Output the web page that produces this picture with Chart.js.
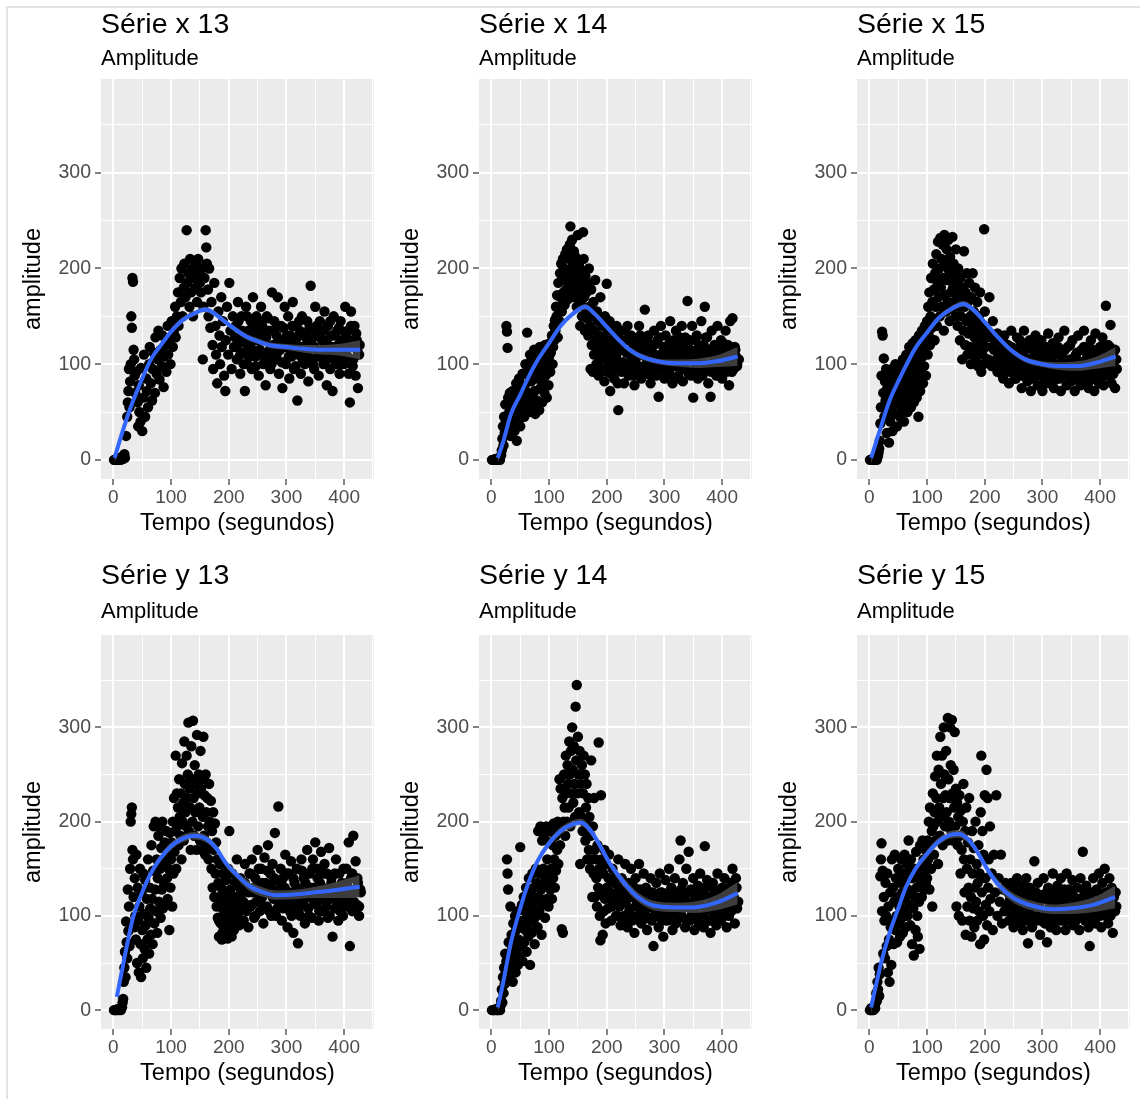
<!DOCTYPE html>
<html>
<head>
<meta charset="utf-8">
<script src="https://cdn.jsdelivr.net/npm/chart.js@4.4.1/dist/chart.umd.min.js"></script>
<style>
  body { margin: 0; background: #fff; width: 1140px; height: 1099px; position: relative; overflow: hidden; }
  .frame { position: absolute; left: 6px; top: 6px; width: 1140px; height: 1100px; border-left: 2px solid #e2e2e2; border-top: 2px solid #e2e2e2; }
  canvas { position: absolute; }
  #c1 { left: 1px; top: 0; }
  #c2 { left: 379px; top: 0; }
  #c3 { left: 757px; top: 0; }
  #c4 { left: 1px; top: 556px; }
  #c5 { left: 379px; top: 556px; }
  #c6 { left: 757px; top: 556px; }
</style>
</head>
<body>
<div class="frame"></div>
<canvas id="c1" width="378" height="539"></canvas>
<canvas id="c2" width="378" height="539"></canvas>
<canvas id="c3" width="378" height="539"></canvas>
<canvas id="c4" width="378" height="533"></canvas>
<canvas id="c5" width="378" height="533"></canvas>
<canvas id="c6" width="378" height="533"></canvas>
<script>
// axis breaks
const xMajor = [0, 100, 200, 300, 400];
const xMinor = [50, 150, 250, 350, 450];
const yMajor = [0, 100, 200, 300];
const yMinor = [50, 150, 250, 350];

// [tempo, amplitude]
const serieX13 = [
  [1,0],[3,0],[5,1],[7,0],[9,0],[11,2],[13,0],[15,3],[17,1],[19,6],[20,2],
  [22,25],[24,45],[25,60],[26,72],[27,95],[28,55],[29,82],[30,100],[31,150],[32,138],[33,190],[34,186],[35,115],[36,105],[37,88],[38,70],[40,92],[42,60],[43,35],[44,78],[45,50],
  [47,40],[48,96],[50,30],[52,65],[53,110],[55,45],[57,85],[58,72],[60,55],[62,100],[63,118],[65,80],[67,62],[68,95],[70,112],[72,70],[73,128],[75,90],[77,105],[78,135],[80,84],[82,115],[84,98],[85,130],[87,76],[88,108],[90,120],[92,92],[94,140],[95,110],[97,125],[99,100],
  [101,145],[103,118],[105,132],[107,160],[108,128],[110,150],[112,175],[113,140],[115,190],[117,165],[118,200],[120,150],[122,180],[123,205],[125,170],[127,240],[128,185],[130,195],[132,160],[133,210],[135,175],[137,200],[138,150],[140,190],[142,180],[143,205],[145,165],[147,210],[148,195],[150,185],[152,175],[153,200],[155,105],[156,160],[158,190],[160,240],[161,222],[162,205],[164,178],[165,150],[166,200],[168,138],[170,165],
  [172,120],[173,95],[175,185],[177,140],[178,110],[180,80],[182,155],[184,130],[185,100],[187,170],[188,118],[190,145],[192,88],[194,72],[195,125],[197,160],[199,110],[201,185],[203,135],[205,95],[207,150],[209,118],
  [212,140],[214,105],[216,165],[218,125],[220,90],[222,150],[224,112],[226,130],[228,72],[230,160],[232,100],[234,135],[236,118],[238,145],[240,95],[242,170],[244,125],[246,108],[248,150],[250,132],[252,88],[254,115],[256,160],[258,140],[260,100],[262,125],[264,78],[266,150],[268,110],[270,135],[272,95],[275,175],[277,120],[279,145],[281,105],[283,130],[285,170],[287,90],[289,115],[291,140],[293,75],[295,125],[297,160],[299,100],
  [301,118],[303,150],[305,85],[307,130],[309,108],[311,165],[313,95],[315,140],[317,120],[319,62],[321,110],[323,135],[325,90],[327,150],[330,115],[332,100],[334,128],[336,145],[338,82],[340,120],[342,182],[344,105],[346,135],[348,95],[350,160],[352,115],[354,130],[356,88],[358,145],[360,108],[362,125],[364,100],[366,155],[368,118],[370,78],[372,140],[374,110],[376,95],[378,130],[380,72],[382,150],[384,115],[386,100],[388,135],[390,120],[392,90],[394,145],[396,108],[398,125],[400,100],[402,160],[404,115],[406,135],[408,90],[410,60],[412,155],[414,120],[416,105],[418,140],[420,88],[422,125],[424,75],[426,110]
];
const serieX13b = [
  [211,128],[214,118],[217,145],[220,110],[223,135],[226,100],[229,122],[232,150],[235,108],[238,130],[241,115],[244,140],[247,98],[250,125],[253,145],[256,112],[259,132],[262,105],[265,128],[268,148],[271,115],[274,100],[277,135],[280,120],[283,110],[286,140],[289,125],[292,102],[295,138],[298,118],
  [301,130],[304,108],[307,122],[310,140],[313,112],[316,98],[319,128],[322,145],[325,118],[328,105],[331,132],[334,120],[337,110],[340,138],[343,125],[346,100],[349,118],[352,140],[355,108],[358,128],[361,115],[364,135],[367,102],[370,125],[373,112],[376,145],[379,118],[382,105],[385,130],[388,112],[391,138],[394,100],[397,122],[400,115],[403,132],[406,108],[409,125],[412,140],[415,98],[418,118],[421,132],[424,112],[427,120]
];

const serieX14 = [
  [1,0],[3,0],[5,0],[7,1],[9,0],[11,0],[13,2],[15,0],[17,5],
  [18,10],[19,22],[20,35],[21,15],[22,45],[23,28],[24,58],[25,40],[26,140],[27,134],[28,117],[29,65],[30,32],[31,50],[32,70],[33,25],[34,48],[35,60],[36,38],[37,72],[38,55],[40,30],[41,62],[42,45],[43,80],[44,20],[45,55],[46,68],[47,40],[48,85],[49,58],[50,35],[52,72],[53,50],[54,90],[55,62],[57,45],[58,78],[59,100],[60,55],
  [62,133],[63,70],[64,88],[65,50],[66,95],[67,110],[68,65],[69,82],[70,105],[72,58],[73,90],[74,115],[75,72],[76,48],[77,98],[78,112],[79,62],[80,85],[82,100],[83,52],[84,118],[85,75],[86,92],[87,108],[88,60],[89,80],[90,112],[91,96],[92,70],[93,120],[94,88],[95,104],[96,65],[97,115],[98,95],[99,78],[100,108],[101,122],[102,92],[103,112],[105,130],[106,100],[107,118],[108,140],[109,125],[110,146],
  [111,135],[112,160],[113,150],[114,172],[115,128],[116,185],[117,160],[118,145],[119,195],[120,170],[121,205],[122,155],[123,188],[124,210],[125,175],[126,200],[127,162],[128,215],[129,190],[130,178],[131,220],[132,198],[133,168],[134,210],[135,185],[136,225],[137,244],[138,200],[139,175],[140,230],[141,208],[142,190],[143,218],[144,170],[145,195],[146,212],[147,182],[148,160],[149,200],[150,235],[151,176],[152,205],[153,188],[154,140],[155,165],[156,198],[157,150],[158,180],[159,238],[160,210],[161,170],[162,135],[163,192],[164,158],[165,175],[166,148],[167,185],[168,130],[169,200],[170,160],
  [171,140],[172,95],[173,178],[174,120],[175,150],[176,92],[177,165],[178,110],[179,135],[180,188],[181,125],[182,100],[183,155],[184,115],[185,145],[186,88],[187,130],[188,105],[189,170],[190,120],[192,95],[193,140],[194,110],[195,128],[196,82],[197,150],[198,105],[199,118],[200,184],[201,92],[202,135],[203,112],[204,100],[205,145],[206,72],[207,125],[208,90],[209,110],[210,138],[211,98],[212,118],[213,85],[214,128],[215,105],[216,95],[217,140],[218,112],[219,80],[220,52],[221,120],[222,100],
  [224,135],[226,92],[228,115],[230,80],[232,125],[234,100],[236,140],[238,88],[240,112],[242,130],[244,95],[246,118],[248,78],[250,105],[252,125],[254,92],[256,140],[258,110],[260,85],[262,120],[264,98],[266,157],[268,115],[270,90],[272,130],[274,105],[276,80],[278,120],[280,98],[282,135],[284,110],[286,88],[288,125],[290,66],[292,108],[294,140],[296,95],[298,118],[300,85],
  [302,130],[304,102],[306,115],[308,92],[310,145],[312,108],[314,80],[316,125],[318,98],[320,135],[322,112],[324,88],[326,120],[328,100],[330,140],[332,82],[334,115],[336,128],[338,95],[340,166],[342,108],[344,125],[346,88],[348,140],[350,65],[352,112],[354,98],[356,130],[358,85],[360,118],[362,105],[364,145],[366,92],[368,120],[370,160],[372,100],[374,128],[376,80],[378,112],[380,66],[382,135],[384,95],[386,118],[388,105],[390,88],[392,140],[394,110],[396,98],[398,125],[400,85],[402,115],[404,102],[406,135],[408,92],[410,120],[412,78],[414,145],[416,105],[418,148],[420,95],[422,118],[424,108],[426,100]
];
const serieX14b = [
  [213,125],[216,108],[219,130],[222,95],[225,118],[228,102],[231,135],[234,112],[237,95],[240,125],[243,105],[246,88],[249,120],[252,110],[255,98],[258,130],[261,115],[264,92],[267,108],[270,125],[273,100],[276,115],[279,88],[282,120],[285,105],[288,95],[291,128],[294,110],[297,98],[300,118],
  [303,108],[306,90],[309,122],[312,100],[315,112],[318,85],[321,118],[324,105],[327,128],[330,95],[333,110],[336,100],[339,122],[342,90],[345,115],[348,105],[351,92],[354,125],[357,108],[360,98],[363,118],[366,88],[369,110],[372,128],[375,100],[378,115],[381,92],[384,108],[387,120],[390,98],[393,112],[396,88],[399,105],[402,122],[405,95],[408,110],[411,100],[414,118],[417,92],[420,108],[423,115],[426,98],[429,105]
];

const serieX15 = [
  [1,0],[3,0],[5,1],[7,0],[9,0],[11,2],[13,0],[15,4],[16,8],[17,12],
  [18,20],[19,38],[20,55],[21,88],[22,134],[23,130],[24,70],[25,106],[26,45],[27,82],[28,62],[29,95],[30,28],[31,75],[32,50],[33,90],[34,18],[35,65],
  [36,40],[37,80],[38,55],[39,95],[40,30],[42,70],[43,88],[44,48],[45,100],[46,62],[47,78],[48,35],[49,92],[50,58],[52,72],[53,45],[54,98],[55,65],[56,82],[57,52],[58,105],[59,70],[60,40],[62,88],[63,60],[64,110],[65,75],[66,50],[67,95],[68,68],[69,118],[70,82],[72,55],[73,100],[74,72],[75,122],[76,90],[77,60],[78,108],[79,80],[80,125],[81,95],[82,65],[83,112],[84,85],[85,45],[86,130],[87,100],[88,72],[89,118],[90,92],[91,135],[92,108],[93,80],[94,120],[95,98],[96,140],[97,115],[98,88],[99,128],
  [100,145],[101,110],[102,160],[103,130],[104,175],[105,120],[106,150],[107,190],[108,138],[109,165],[110,205],[111,145],[112,178],[113,125],[114,195],[115,160],[116,215],[117,140],[118,185],[119,228],[120,170],[121,200],[122,150],[123,232],[124,180],[125,210],[126,160],[127,225],[128,190],[129,135],[130,235],[131,172],[132,205],[133,155],[134,220],[135,188],[136,165],[137,230],[138,198],[139,145],[140,212],[141,175],[142,190],[143,158],[144,233],[145,180],[146,205],[147,165],[148,195],[149,150],[150,220],[151,172],[152,185],[153,140],[154,200],[155,160],[156,178],[157,125],[158,190],[159,150],[160,170],[161,105],[162,180],[163,135],[164,218],[165,160],[166,120],[167,175],[168,145],[169,195],[170,110],
  [171,165],[172,132],[173,185],[174,118],[175,150],[176,100],[177,170],[178,138],[179,195],[180,112],[181,155],[182,128],[183,180],[184,105],[185,145],[186,120],[187,165],[188,98],[189,135],[190,150],[191,115],[192,175],[193,130],[194,92],[195,140],[196,110],[197,125],[198,100],[199,241],[200,155],[202,118],[204,135],[206,105],[208,170],[210,128],[212,98],[214,145],[216,115],[218,125],[220,105],
  [222,132],[224,110],[226,92],[228,125],[230,100],[232,85],[234,130],[236,112],[238,95],[240,120],[242,80],[244,108],[246,135],[248,92],[250,115],[252,100],[254,85],[256,128],[258,105],[260,90],[262,120],[264,75],[266,110],[268,135],[270,95],[272,118],[274,82],[276,105],[278,125],[280,72],[282,98],[284,115],[286,88],[288,130],[290,100],[292,78],[294,112],[296,92],[298,125],[300,72],
  [302,105],[304,88],[306,118],[308,95],[310,132],[312,80],[314,108],[316,92],[318,122],[320,75],[322,100],[324,115],[326,85],[328,128],[330,95],[332,72],[334,110],[336,88],[338,135],[340,98],[342,78],[344,118],[346,92],[348,105],[350,82],[352,125],[354,95],[356,72],[358,110],[360,88],[362,130],[364,100],[366,78],[368,115],[370,92],[372,135],[374,82],[376,105],[378,118],[380,75],[382,98],[384,125],[386,88],[388,110],[390,72],[392,132],[394,95],[396,105],[398,80],[400,118],[402,92],[404,128],[406,78],[408,110],[410,161],[412,88],[414,120],[416,100],[418,141],[420,80],[422,112],[424,95],[426,75],[428,105]
];
const serieX15b = [
  [213,118],[216,100],[219,130],[222,92],[225,115],[228,105],[231,88],[234,122],[237,100],[240,110],[243,92],[246,118],[249,105],[252,85],[255,112],[258,98],[261,125],[264,88],[267,105],[270,115],[273,92],[276,100],[279,118],[282,85],[285,108],[288,95],[291,120],[294,88],[297,102],[300,112],
  [303,80],[306,98],[309,115],[312,90],[315,105],[318,82],[321,110],[324,95],[327,118],[330,85],[333,102],[336,92],[339,115],[342,88],[345,100],[348,120],[351,90],[354,105],[357,85],[360,112],[363,95],[366,102],[369,88],[372,118],[375,95],[378,108],[381,82],[384,100],[387,115],[390,90],[393,105],[396,85],[399,110],[402,98],[405,120],[408,88],[411,102],[414,95],[417,118],[420,100],[423,90],[426,115],[429,95]
];

const serieY13 = [
  [1,0],[3,0],[5,0],[7,1],[9,0],[11,2],[13,0],[15,3],[16,8],[17,12],
  [18,30],[19,45],[20,62],[21,35],[22,94],[23,72],[24,55],[25,128],[26,84],[27,110],[28,68],[29,150],[30,200],[31,208],[32,215],[33,170],[34,160],[35,120],[36,88],[37,140],[38,100],[39,75],[40,165],
  [41,50],[42,130],[43,95],[44,40],[45,110],[46,150],[47,70],[48,35],[49,125],[50,85],[51,55],[52,145],[53,102],[54,65],[55,138],[56,90],[57,45],[58,118],[59,75],[60,160],[61,98],[62,60],[63,130],[64,108],[65,80],[66,175],[67,118],[68,70],[69,148],[70,195],[71,92],[72,128],[73,200],[74,105],[75,160],[76,82],[77,140],[78,185],[79,115],[80,195],[81,150],[82,98],[83,172],[84,128],[85,200],[86,108],[87,155],[88,135],[89,178],[90,112],[91,162],[92,190],[93,140],[94,118],[95,170],[96,150],[97,85],[98,188],[99,130],
  [100,160],[101,178],[102,110],[103,200],[104,145],[105,225],[106,168],[107,190],[108,270],[109,150],[110,230],[111,195],[112,215],[113,175],[114,245],[115,205],[116,185],[117,230],[118,160],[119,262],[120,200],[121,220],[122,180],[123,285],[124,240],[125,210],[126,195],[127,270],[128,225],[129,250],[130,305],[131,190],[132,235],[133,215],[134,170],[135,280],[136,245],[137,200],[138,307],[139,225],[140,185],[141,260],[142,210],[143,240],[144,170],[145,292],[146,230],[147,195],[148,250],[149,215],[150,180],[151,275],[152,235],[153,170],[154,245],[155,205],[156,290],[157,185],[158,228],[159,165],[160,250],[161,210],[162,178],[163,225],[164,195],[165,160],[166,240],[167,200],[168,172],[169,222],[170,150],[171,190],[172,130],[173,210],[174,170],[175,120],[176,198],[177,145],[178,178],[179,110],[180,160],
  [181,98],[182,135],[183,78],[184,120],[185,155],[186,92],[187,130],[188,75],[189,110],[190,145],[191,88],[192,125],[193,100],[194,80],[195,138],[196,95],[197,118],[198,76],[199,150],[200,105],[201,190],[202,88],[203,128],[204,110],[205,78],[206,145],[207,98],[208,120],[209,85],[210,135],[212,102],[214,160],[216,115],[218,90],[220,140],[222,108],[224,125],[226,95],[228,155],[230,112],
  [232,130],[234,88],[236,145],[238,110],[240,160],[242,125],[244,98],[246,140],[248,115],[250,170],[252,132],[254,105],[256,150],[258,120],[260,92],[262,162],[264,135],[266,110],[268,175],[270,125],[272,145],[274,100],[276,155],[278,118],[280,188],[282,138],[284,108],[286,216],[288,128],[290,150],[292,95],[294,140],[296,115],[298,165],[300,125],
  [302,88],[304,145],[306,105],[308,158],[310,120],[312,82],[314,135],[316,110],[318,150],[320,71],[322,128],[324,100],[326,160],[328,118],[330,140],[332,92],[334,125],[336,170],[338,108],[340,145],[342,120],[344,98],[346,160],[348,130],[350,178],[352,112],[354,150],[356,95],[358,135],[360,168],[362,120],[364,105],[366,155],[368,128],[370,145],[372,98],[374,172],[376,118],[378,140],[380,78],[382,130],[384,108],[386,160],[388,122],[390,95],[392,145],[394,115],[396,135],[398,100],[400,128],[402,110],[404,150],[406,120],[408,178],[410,68],[412,140],[414,105],[416,185],[418,125],[420,158],[422,112],[424,135],[426,100],[428,128]
];
const serieY13b = [
  [183,95],[186,110],[189,82],[192,105],[195,90],[198,115],[201,80],[204,95],[207,108],[210,88],[213,120],[216,100],[219,130],[222,92],[225,115],[228,135],[231,105],[234,125],[237,145],[240,112],[243,130],[246,100],[249,125],[252,150],[255,118],[258,135],[261,110],[264,128],[267,148],[270,105],
  [273,132],[276,120],[279,140],[282,100],[285,125],[288,115],[291,135],[294,108],[297,130],[300,145],[303,115],[306,125],[309,100],[312,140],[315,118],[318,130],[321,105],[324,125],[327,148],[330,112],[333,135],[336,120],[339,100],[342,130],[345,150],[348,115],[351,125],[354,140],[357,105],[360,132],
  [363,118],[366,145],[369,110],[372,128],[375,100],[378,135],[381,120],[384,145],[387,110],[390,130],[393,105],[396,125],[399,150],[402,118],[405,135],[408,110],[411,128],[414,145],[417,115],[420,125],[423,140],[426,110],[429,125]
];

const serieY14 = [
  [1,0],[3,0],[5,0],[7,1],[9,0],[11,0],[13,2],[15,0],[16,5],
  [17,10],[18,22],[19,8],[20,35],[21,18],[22,45],[23,28],[24,60],[25,40],[26,52],[27,160],[28,145],[29,128],[30,72],[31,35],[32,58],[33,110],[34,45],[35,80],[36,65],[37,30],[38,92],[39,50],[40,70],[41,100],[42,40],[43,85],[44,60],[45,105],[46,48],[47,75],[48,95],[49,55],[50,173],
  [51,88],[52,68],[53,112],[54,52],[55,95],[56,120],[57,72],[58,105],[59,85],[60,130],[61,62],[62,98],[63,115],[64,78],[65,140],[66,92],[67,48],[68,125],[69,105],[70,82],[71,145],[72,112],[73,95],[74,130],[75,70],[76,118],[77,150],[78,100],[79,135],[80,88],[81,190],[82,120],[83,105],[84,145],[85,195],[86,128],[87,80],[88,180],[89,112],[90,150],[91,132],[92,185],[93,98],[94,140],[95,195],[96,118],[97,160],[98,135],[99,110],[100,178],
  [101,145],[102,128],[103,190],[104,150],[105,118],[106,175],[107,140],[108,198],[109,160],[110,130],[111,185],[112,148],[113,195],[114,170],[115,200],[116,155],[117,190],[118,245],[119,175],[120,235],[121,195],[122,86],[123,225],[124,82],[125,200],[126,250],[127,215],[128,185],[129,270],[130,230],[131,200],[132,260],[133,240],[134,215],[135,285],[136,250],[137,195],[138,275],[139,230],[140,300],[141,255],[142,220],[143,280],[144,240],[145,205],[146,322],[147,265],[148,345],[149,230],[150,290],[151,250],[152,210],[153,275],[154,155],[155,240],[156,205],[157,260],[158,190],[159,230],[160,270],[161,200],[162,250],[163,180],[164,215],[165,240],[166,160],[167,195],[168,225],[169,170],[170,205],
  [171,150],[172,185],[173,265],[174,160],[175,120],[176,195],[177,145],[178,225],[179,170],[180,120],[181,160],[182,140],[183,110],[184,175],[185,130],[186,284],[187,150],[188,100],[189,74],[190,228],[191,160],[192,125],[193,80],[194,145],[195,105],[196,170],[197,118],[198,92],[199,155],[200,130],[202,108],[204,165],[206,120],[208,95],[210,150],[212,115],[214,140],[216,100],[218,125],[220,160],
  [222,110],[224,90],[226,140],[228,118],[230,100],[232,155],[234,125],[236,88],[238,135],[240,108],[242,150],[244,95],[246,120],[248,82],[250,140],[252,112],[254,100],[256,155],[258,128],[260,92],[262,118],[264,145],[266,105],[268,130],[270,85],[272,120],[274,98],[276,140],[278,110],[280,125],[281,68],[284,100],[286,135],[288,115],[290,88],[292,145],[294,105],[296,125],[298,78],[300,112],
  [302,138],[304,95],[306,120],[308,150],[310,100],[312,130],[314,85],[316,115],[318,140],[320,92],[322,125],[324,108],[326,160],[328,180],[330,100],[332,135],[334,118],[336,88],[338,150],[340,110],[342,168],[344,95],[346,128],[348,105],[350,140],[352,85],[354,118],[356,100],[358,132],[360,92],[362,145],[364,112],[366,125],[368,88],[370,174],[372,108],[374,138],[376,95],[378,120],[380,82],[382,112],[384,135],[386,100],[388,125],[390,90],[392,145],[394,110],[396,118],[398,95],[400,130],[402,105],[404,140],[406,115],[408,88],[410,125],[412,100],[414,135],[416,110],[418,150],[420,120],[422,92],[424,140],[426,108]
];
const serieY14b = [
  [203,140],[206,125],[209,110],[212,135],[215,118],[218,100],[221,130],[224,112],[227,125],[230,95],[233,115],[236,128],[239,105],[242,120],[245,98],[248,130],[251,110],[254,122],[257,95],[260,115],[263,105],[266,128],[269,98],[272,112],[275,125],[278,95],[281,108],[284,120],[287,100],[290,112],
  [293,125],[296,95],[299,108],[302,118],[305,100],[308,125],[311,110],[314,95],[317,120],[320,105],[323,115],[326,98],[329,128],[332,108],[335,120],[338,95],[341,112],[344,125],[347,100],[350,115],[353,108],[356,125],[359,95],[362,112],[365,120],[368,102],[371,130],[374,110],[377,95],[380,118],
  [383,105],[386,128],[389,112],[392,98],[395,120],[398,108],[401,125],[404,100],[407,118],[410,110],[413,130],[416,105],[419,122],[422,112],[425,130],[428,115]
];

const serieY15 = [
  [1,0],[2,0],[3,2],[5,0],[6,1],[7,0],[8,3],[9,5],[10,2],
  [11,8],[12,18],[13,10],[14,30],[15,22],[16,45],[17,15],[18,38],[19,142],[20,160],[21,177],[22,105],[23,148],[24,60],[25,120],[26,95],[27,55],[28,135],[29,100],[30,68],[31,145],[32,40],[33,110],[34,75],[35,30],[36,125],[37,88],[38,48],[39,160],[40,95],
  [41,130],[42,70],[43,115],[44,165],[45,85],[46,140],[47,100],[48,72],[49,120],[50,150],[51,92],[52,110],[53,78],[54,135],[55,160],[56,98],[57,125],[58,82],[59,145],[60,105],[61,165],[62,118],[63,88],[64,138],[65,155],[66,100],[67,128],[68,180],[69,112],[70,148],[71,90],[72,160],[73,125],[74,70],[75,140],[76,108],[77,58],[78,150],[79,120],[80,85],[81,168],[82,130],[83,100],[84,78],[85,145],[86,115],[87,65],[88,175],[89,135],[90,150],[91,120],[92,180],[93,140],[94,160],[95,128],[96,148],[97,170],[98,135],[99,155],
  [100,140],[101,180],[102,160],[103,200],[104,128],[105,215],[106,175],[107,150],[108,190],[109,110],[110,230],[111,195],[112,165],[113,210],[114,248],[115,180],[116,225],[117,270],[118,200],[119,155],[120,255],[121,215],[122,185],[123,290],[124,240],[125,205],[126,270],[127,175],[128,225],[129,300],[130,250],[131,195],[132,228],[133,275],[134,210],[135,180],[136,310],[137,245],[138,200],[139,225],[140,300],[141,260],[142,190],[143,308],[144,230],[145,180],[146,255],[147,215],[148,295],[149,195],[150,235],[151,110],[152,220],[153,175],[154,205],[155,100],[156,228],[157,185],[158,145],[159,212],[160,170],[161,95],[162,200],[163,240],[164,160],[165,125],[166,190],[167,80],[168,215],[169,150],[170,110],
  [171,178],[172,130],[173,225],[174,95],[175,160],[176,120],[177,78],[178,190],[179,145],[180,108],[181,172],[182,88],[183,130],[184,200],[185,115],[186,155],[187,95],[188,135],[189,175],[190,105],[191,145],[192,70],[193,210],[194,270],[195,125],[196,190],[197,100],[198,165],[199,75],[200,228],[201,140],[202,112],[203,255],[204,90],[205,225],[206,130],[207,160],[208,105],[209,195],[210,118],[212,145],[214,85],[216,165],[218,125],[220,228],[222,100],[224,140],[226,115],[228,165],[230,92],[232,128],[234,105],[236,135],[238,112],
  [240,125],[242,95],[244,118],[246,135],[248,100],[250,88],[252,128],[254,108],[256,140],[258,92],[260,115],[262,132],[264,100],[266,85],[268,122],[270,105],[272,140],[274,95],[275,71],[276,118],[278,130],[280,100],[282,88],[284,125],[286,158],[288,110],[290,95],[292,135],[294,115],[296,80],[298,122],[300,105],
  [302,140],[304,92],[306,118],[308,72],[310,130],[312,105],[314,88],[316,125],[318,145],[320,100],[322,115],[324,85],[326,132],[328,108],[330,95],[332,140],[334,118],[336,100],[338,128],[340,85],[342,145],[344,110],[346,95],[348,125],[350,105],[352,138],[354,90],[356,118],[358,100],[360,130],[362,112],[364,85],[366,140],[368,105],[370,168],[372,120],[374,95],[376,132],[378,108],[380,88],[382,68],[384,125],[386,100],[388,140],[390,115],[392,92],[394,128],[396,105],[398,145],[400,118],[402,88],[404,135],[406,110],[408,150],[410,100],[412,125],[414,92],[416,140],[418,115],[420,130],[422,82],[424,120],[426,105],[428,110]
];
const serieY15b = [
  [241,110],[244,128],[247,98],[250,118],[253,105],[256,120],[259,100],[262,112],[265,125],[268,95],[271,115],[274,130],[277,105],[280,118],[283,98],[286,112],[289,125],[292,100],[295,110],[298,95],
  [301,120],[304,105],[307,125],[310,98],[313,112],[316,100],[319,118],[322,95],[325,110],[328,125],[331,100],[334,112],[337,95],[340,118],[343,105],[346,128],[349,98],[352,110],[355,120],[358,95],
  [361,108],[364,118],[367,100],[370,112],[373,125],[376,98],[379,110],[382,120],[385,105],[388,115],[391,95],[394,112],[397,125],[400,100],[403,115],[406,105],[409,125],[412,108],[415,118],[418,100],[421,122],[424,110],[427,125]
];

// loess fit: [tempo, ajuste, meia largura do intervalo]
const ajusteX13 = [[2,2,6],[15,28,4],[30,55,3],[50,85,3],[65,105,3],[80,118,3],[100,134,3],[120,146,3],[140,153,3],[160,157,3],[175,153,3],[190,146,3],[210,137,3],[230,129,3],[250,124,3],[270,120,3],[300,118,3],[330,116,4],[360,115,5],[390,115,6],[428,115,10]];
const ajusteX14 = [[11,2,6],[20,18,4],[34,48,3],[50,68,3],[63,85,3],[80,104,3],[100,122,3],[120,140,3],[140,152,3],[163,160,3],[180,152,3],[200,139,3],[220,126,3],[240,115,3],[264,107,3],[298,102,3],[330,101,4],[360,101,5],[390,103,6],[427,108,10]];
const ajusteX15 = [[3,2,6],[15,25,4],[35,62,3],[50,82,3],[63,98,3],[80,117,3],[100,133,3],[120,148,3],[140,157,3],[163,163,3],[180,157,3],[200,144,3],[220,130,3],[245,115,3],[270,105,3],[300,100,3],[330,98,4],[360,98,5],[390,101,6],[427,108,10]];
const ajusteY13 = [[6,14,7],[20,58,5],[34,98,4],[50,125,4],[63,143,4],[80,160,4],[100,174,4],[120,182,4],[140,185,4],[160,182,4],[178,172,4],[195,156,4],[210,146,4],[235,132,5],[260,125,5],[281,122,5],[320,123,5],[350,125,6],[380,127,8],[427,131,12]];
const ajusteY14 = [[11,3,7],[20,28,5],[34,72,4],[50,108,4],[63,133,4],[80,158,4],[100,177,4],[120,190,4],[140,197,4],[155,199,4],[170,192,4],[185,178,4],[206,155,4],[225,139,5],[250,122,5],[281,111,5],[320,109,5],[350,109,6],[390,114,8],[427,124,12]];
const ajusteY15 = [[3,3,7],[12,28,5],[21,52,4],[35,82,4],[50,108,4],[63,130,4],[80,150,4],[100,166,4],[120,179,4],[140,186,4],[155,187,4],[170,182,4],[185,170,4],[206,148,4],[225,132,5],[250,119,5],[281,111,5],[320,107,5],[350,108,6],[390,112,8],[426,120,12]];

const paineis = [
  { id: 'c1', titulo: 'Série x 13', pontos: serieX13.concat(serieX13b), ajuste: ajusteX13, linha: 0 },
  { id: 'c2', titulo: 'Série x 14', pontos: serieX14.concat(serieX14b), ajuste: ajusteX14, linha: 0 },
  { id: 'c3', titulo: 'Série x 15', pontos: serieX15.concat(serieX15b), ajuste: ajusteX15, linha: 0 },
  { id: 'c4', titulo: 'Série y 13', pontos: serieY13.concat(serieY13b), ajuste: ajusteY13, linha: 1 },
  { id: 'c5', titulo: 'Série y 14', pontos: serieY14.concat(serieY14b), ajuste: ajusteY14, linha: 1 },
  { id: 'c6', titulo: 'Série y 15', pontos: serieY15.concat(serieY15b), ajuste: ajusteY15, linha: 1 }
];

Chart.defaults.font.family = '"Liberation Sans", Arial, Helvetica, sans-serif';
Chart.defaults.color = '#000';

// grey ggplot panel
const fundoPainel = {
  id: 'fundoPainel',
  beforeDraw(chart) {
    const { ctx, chartArea } = chart;
    ctx.save();
    ctx.fillStyle = '#ebebeb';
    ctx.fillRect(chartArea.left, chartArea.top, chartArea.width, chartArea.height);
    ctx.restore();
  }
};

function gradeEixo(major) {
  return {
    color: '#ffffff',
    lineWidth: c => major.includes(c.tick.value) ? 2 : 1,
    tickColor: c => major.includes(c.tick.value) ? '#333333' : 'rgba(0,0,0,0)',
    tickWidth: 1.2,
    tickLength: 6,
    drawTicks: true
  };
}

paineis.forEach(function (p) {
  const tituloPad = p.linha === 0 ? { top: 8, bottom: 2 } : { top: 3, bottom: 3 };
  const subPad = p.linha === 0 ? { top: 2, bottom: 6.4 } : { top: 3, bottom: 9.4 };

  new Chart(document.getElementById(p.id), {
    type: 'scatter',
    data: {
      datasets: [
        {
          data: p.pontos.map(d => ({ x: d[0], y: d[1] })),
          backgroundColor: '#000',
          borderWidth: 0,
          pointRadius: 5.2,
          order: 3
        },
        {
          type: 'line',
          data: p.ajuste.map(d => ({ x: d[0], y: d[1] - d[2] })),
          showLine: true,
          borderWidth: 0,
          borderColor: 'rgba(0,0,0,0)',
          pointRadius: 0,
          fill: false,
          cubicInterpolationMode: 'monotone',
          order: 2
        },
        {
          type: 'line',
          data: p.ajuste.map(d => ({ x: d[0], y: d[1] + d[2] })),
          showLine: true,
          borderWidth: 0,
          borderColor: 'rgba(0,0,0,0)',
          backgroundColor: 'rgba(153,153,153,0.4)',
          pointRadius: 0,
          fill: '-1',
          cubicInterpolationMode: 'monotone',
          order: 2
        },
        {
          type: 'line',
          data: p.ajuste.map(d => ({ x: d[0], y: d[1] })),
          showLine: true,
          borderColor: '#3366ff',
          borderWidth: 4,
          pointRadius: 0,
          fill: false,
          cubicInterpolationMode: 'monotone',
          order: 1
        }
      ]
    },
    options: {
      responsive: false,
      animation: false,
      events: [],
      layout: { padding: { top: 0, left: 0, right: 2, bottom: 0 } },
      plugins: {
        legend: { display: false },
        tooltip: { enabled: false },
        title: {
          display: true,
          text: p.titulo,
          align: 'start',
          fullSize: false,
          color: '#000',
          font: { size: 28.5, weight: 'normal' },
          padding: tituloPad
        },
        subtitle: {
          display: true,
          text: 'Amplitude',
          align: 'start',
          fullSize: false,
          color: '#000',
          font: { size: 22, weight: 'normal' },
          padding: subPad
        }
      },
      scales: {
        x: {
          type: 'linear',
          min: -21.5,
          max: 451.5,
          afterFit: s => { s.height = 60; },
          afterBuildTicks: s => { s.ticks = xMajor.concat(xMinor).sort((a, b) => a - b).map(v => ({ value: v })); },
          grid: gradeEixo(xMajor),
          border: { display: false },
          ticks: {
            autoSkip: false,
            maxRotation: 0,
            padding: 1,
            color: '#4d4d4d',
            font: { size: 19 },
            callback: v => xMajor.includes(v) ? String(v) : ''
          },
          title: {
            display: true,
            text: 'Tempo (segundos)',
            color: '#000',
            font: { size: 23.5 },
            padding: { top: 0, bottom: 1 }
          }
        },
        y: {
          type: 'linear',
          min: -20,
          max: 398,
          afterFit: s => { s.width = 100; },
          afterBuildTicks: s => { s.ticks = yMajor.concat(yMinor).sort((a, b) => a - b).map(v => ({ value: v })); },
          grid: gradeEixo(yMajor),
          border: { display: false },
          ticks: {
            autoSkip: false,
            padding: 4,
            color: '#4d4d4d',
            font: { size: 19.5 },
            callback: v => yMajor.includes(v) ? String(v) : ''
          },
          title: {
            display: true,
            text: 'amplitude',
            color: '#000',
            font: { size: 23.5 },
            padding: { top: 18, bottom: 0 }
          }
        }
      }
    },
    plugins: [fundoPainel]
  });
});
</script>
</body>
</html>
